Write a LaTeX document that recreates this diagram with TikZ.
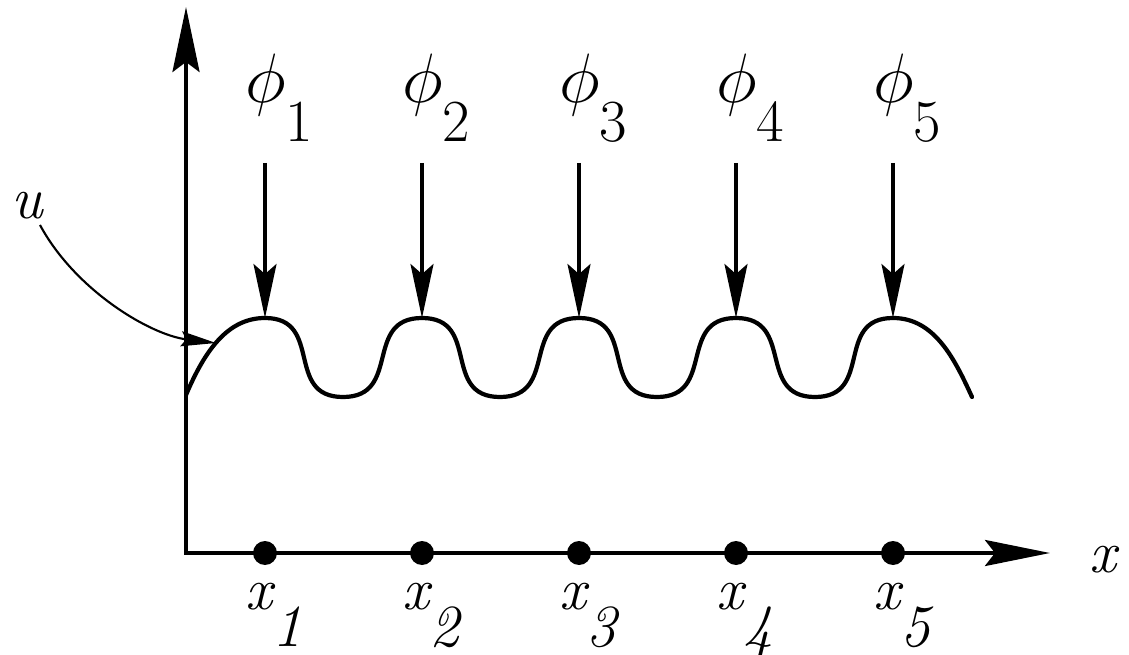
\documentclass[tikz,border=0pt]{standalone}
\usepackage{graphicx}
\usetikzlibrary{arrows.meta}
\tikzset{
  axisline/.style={line width=2.2pt,{Stealth[length=13mm,width=5.4mm,inset=2mm]}-{Stealth[length=13mm,width=5.2mm,inset=2mm]}},
  basisarrow/.style={line width=1.8pt,-{Stealth[length=10.8mm,width=4.6mm,inset=2mm]}},
  pointer/.style={line width=1.2pt,-{Stealth[length=7mm,width=3mm,inset=1mm]}},
  wave/.style={line width=2.4pt,line cap=round},
  gridpt/.style={circle,fill,inner sep=0pt,minimum size=4.8mm},
  lbl/.style={font=\fontsize{34}{40}\selectfont,inner sep=0pt}
}

\begin{document}
\begin{tikzpicture}[x=0.02cm,y=-0.02cm]
\useasboundingbox (0,0) rectangle (1129,655);

% axes
\coordinate (O) at (186,553);
\coordinate (ytip) at (186,7);
\coordinate (xtip) at (1050,553);
\draw[axisline] (ytip) -- (O) -- (xtip);
\node[lbl] (xaxis) at (1103,560) {\itshape x};

% nodes, basis functions
\foreach \i/\x in {1/265,2/422,3/579,4/736,5/893}{
  \node[lbl,anchor=base west] (xl\i) at (\x-20,609) {\itshape x\raisebox{-0.62em}{\i}};
  \node[lbl,anchor=base west] (phi\i) at (\x-20,103) {\scalebox{1.6}{$\phi$}\raisebox{-0.65em}{\i}};
  \node[gridpt] (n\i) at (\x,553) {};
  \coordinate (p\i) at (\x,318);
  \coordinate (s\i) at (\x,163);
  \draw[basisarrow] (s\i) -- (p\i);
}
\foreach \i/\x in {1/343,2/500,3/657,4/815}
  \coordinate (t\i) at (\x,397);

% the function u
\draw[wave] (186,395) .. controls (205,350) and (228,318) .. (p1)
  .. controls +(59,0) and +(-59,0) .. (t1) .. controls +(59,0) and +(-59,0) .. (p2)
  .. controls +(59,0) and +(-59,0) .. (t2) .. controls +(59,0) and +(-59,0) .. (p3)
  .. controls +(59,0) and +(-59,0) .. (t3) .. controls +(59,0) and +(-59,0) .. (p4)
  .. controls +(59,0) and +(-59,0) .. (t4) .. controls +(59,0) and +(-59,0) .. (p5)
  .. controls (935,318) and (955,360) .. (972,397);

\node[lbl] (ulab) at (27,206) {\itshape u};
\coordinate (utip) at (216,343);
\draw[pointer] (40,225) .. controls (75,290) and (150,335) .. (utip);
\end{tikzpicture}
\end{document}
